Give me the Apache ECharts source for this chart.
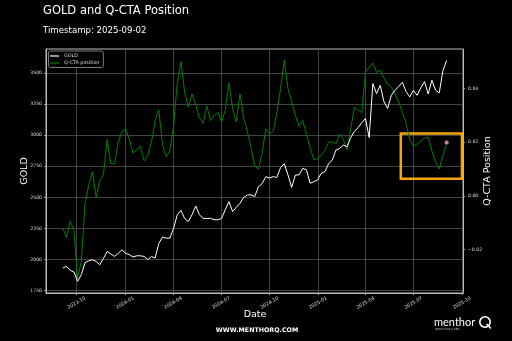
<!DOCTYPE html>
<html>
<head>
<meta charset="utf-8">
<script src="https://cdn.jsdelivr.net/npm/echarts@6/dist/echarts.min.js"></script>
<style>
  html, body { margin: 0; padding: 0; background: #000; }
  #chart { width: 512px; height: 341px; }
</style>
</head>
<body>
<div id="chart"></div>
<script>
// Weekly observations, first one on 2023-09-05, last one on 2025-09-02
const startYear = 2023, startMonth = 8, startDay = 5; // month is 0-based
const stepDays = 7;

// GOLD price (USD/oz)
const goldValues = [
  1932, 1945, 1913, 1900, 1825, 1878, 1975, 1990, 1998, 1985,
  1958, 2010, 2065, 2045, 2025, 2050, 2078, 2050, 2040, 2020,
  2030, 2030, 2025, 1998, 2025, 2012, 2130, 2180, 2172, 2172,
  2250, 2360, 2395, 2330, 2305, 2360, 2430, 2360, 2330, 2330,
  2332, 2320, 2319, 2330, 2400, 2465, 2385, 2420, 2452, 2500,
  2519, 2520, 2506, 2586, 2610, 2666, 2655, 2666, 2660, 2740,
  2770, 2680, 2580, 2679, 2680, 2733, 2720, 2613, 2626, 2639,
  2693, 2706, 2770, 2800, 2880, 2893, 2920, 2906, 2980, 3030,
  3060, 3100, 3134, 2980, 3414, 3334, 3400, 3270, 3214, 3320,
  3360, 3390, 3425, 3350, 3307, 3360, 3320, 3380, 3430, 3330,
  3441, 3360, 3340, 3520, 3600
];

// Q-CTA position
const ctaValues = [
  -0.0120, -0.0156, -0.0093, -0.0130, -0.0310, -0.0243, -0.0030, 0.0040, 0.0090, -0.0006,
  0.0056, 0.0080, 0.0210, 0.0120, 0.0119, 0.0200, 0.0240, 0.0250, 0.0212, 0.0160,
  0.0170, 0.0185, 0.0130, 0.0150, 0.0200, 0.0280, 0.0320, 0.0190, 0.0145, 0.0170,
  0.0260, 0.0420, 0.0500, 0.0386, 0.0330, 0.0380, 0.0340, 0.0290, 0.0270, 0.0335,
  0.0280, 0.0300, 0.0310, 0.0275, 0.0320, 0.0420, 0.0325, 0.0275, 0.0380, 0.0290,
  0.0240, 0.0180, 0.0110, 0.0100, 0.0160, 0.0250, 0.0230, 0.0240, 0.0310, 0.0400,
  0.0505, 0.0400, 0.0350, 0.0300, 0.0260, 0.0281, 0.0230, 0.0180, 0.0135, 0.0138,
  0.0150, 0.0168, 0.0200, 0.0200, 0.0195, 0.0230, 0.0210, 0.0170, 0.0250, 0.0330,
  0.0320, 0.0310, 0.0460, 0.0480, 0.0495, 0.0460, 0.0468, 0.0440, 0.0415, 0.0405,
  0.0380, 0.0350, 0.0310, 0.0270, 0.0210, 0.0185, 0.0193, 0.0205, 0.0215, 0.0218,
  0.0168, 0.0125, 0.0100, 0.0150, 0.0199
];

// Axis ticks
const goldTicks = [1750, 2000, 2250, 2500, 2750, 3000, 3250, 3500];
const ctaTicks = [-0.02, 0.00, 0.02, 0.04];
const dateTicks = ['2023-10', '2024-01', '2024-04', '2024-07', '2024-10',
                   '2025-01', '2025-04', '2025-07', '2025-10'];

// Highlighted recent window on the Q-CTA axis
const focusStart = [2025, 5, 7], focusEnd = [2025, 9, 1];
const focusLow = 0.0064, focusHigh = 0.0232;

const ts = (y, m, d) => new Date(y, m, d).getTime();
const dates = goldValues.map((_, i) => ts(startYear, startMonth, startDay + i * stepDays));
const goldData = dates.map((d, i) => [d, goldValues[i]]);
const ctaData = dates.map((d, i) => [d, ctaValues[i]]);
const lastIdx = ctaData.length - 1;
const dateTickValues = dateTicks.map(s => { const p = s.split('-'); return ts(+p[0], +p[1] - 1, 1); });

const FONT = 'DejaVu Sans';
const tickLabel = { color: '#dddddd', fontSize: 4.6, fontFamily: FONT };
const gridLine = { show: true, lineStyle: { color: '#555555', width: 0.8 } };
const frame = { show: true, onZero: false, lineStyle: { color: '#bbbbbb', width: 1 } };
const tick = { show: true, length: 2, lineStyle: { color: '#bbbbbb', width: 0.8 } };

const pad = n => (n < 10 ? '0' : '') + n;

const chart = echarts.init(document.getElementById('chart'), null, { renderer: 'canvas' });
chart.setOption({
  backgroundColor: '#000000',
  animation: false,
  title: [
    { text: 'GOLD and Q-CTA Position', left: 43, top: 5, padding: 0,
      textStyle: { color: '#ffffff', fontSize: 11.5, fontWeight: 'normal', fontFamily: FONT } },
    { text: 'Timestamp: 2025-09-02', left: 43, top: 26, padding: 0,
      textStyle: { color: '#ffffff', fontSize: 8.6, fontWeight: 'normal', fontFamily: FONT } }
  ],
  grid: {
    left: 46, right: 49, top: 49, bottom: 48,
    show: true, borderColor: '#bbbbbb', borderWidth: 1, backgroundColor: 'transparent'
  },
  legend: {
    data: ['GOLD', 'Q-CTA position'],
    orient: 'vertical',
    left: 48.5, top: 51,
    padding: [2.5, 4, 2, 1.5],
    itemGap: 2,
    itemWidth: 9, itemHeight: 1.2,
    itemTextGap: 3,
    icon: 'rect',
    backgroundColor: '#000000',
    borderColor: '#999999', borderWidth: 0.8, borderRadius: 2,
    textStyle: { color: '#dddddd', fontSize: 4.8, fontFamily: FONT, lineHeight: 5 }
  },
  xAxis: {
    type: 'value',
    min: ts(2023, 7, 4),
    max: ts(2025, 9, 3),
    axisLine: frame,
    axisTick: Object.assign({}, tick, { customValues: dateTickValues }),
    splitLine: gridLine,
    axisLabel: Object.assign({}, tickLabel, {
      customValues: dateTickValues,
      fontSize: 4.8,
      rotate: 30,
      align: 'center',
      verticalAlign: 'middle',
      margin: 10,
      formatter: v => { const d = new Date(v); return d.getFullYear() + '-' + pad(d.getMonth() + 1); }
    })
  },
  yAxis: [
    {
      type: 'value',
      position: 'left',
      min: 1731, max: 3692,
      axisLine: frame,
      axisTick: Object.assign({}, tick, { customValues: goldTicks }),
      splitLine: gridLine,
      axisLabel: Object.assign({}, tickLabel, { customValues: goldTicks, margin: 4, formatter: v => String(v) })
    },
    {
      type: 'value',
      position: 'right',
      min: -0.0362, max: 0.0547,
      axisLine: frame,
      axisTick: Object.assign({}, tick, { customValues: ctaTicks }),
      splitLine: { show: false },
      axisLabel: Object.assign({}, tickLabel, {
        customValues: ctaTicks, margin: 5,
        formatter: v => (v < 0 ? '\u2212' : '') + Math.abs(v).toFixed(2)
      })
    }
  ],
  series: [
    {
      name: 'GOLD', type: 'line', yAxisIndex: 0,
      data: goldData, showSymbol: false, symbol: 'none',
      lineStyle: { color: '#ffffff', width: 1 }, itemStyle: { color: '#ffffff' },
      z: 3
    },
    {
      name: 'Q-CTA position', type: 'line', yAxisIndex: 1,
      data: ctaData, showSymbol: false, symbol: 'none',
      lineStyle: { color: '#008000', width: 1 }, itemStyle: { color: '#008000' },
      z: 2,
      markArea: {
        silent: true,
        itemStyle: { color: 'rgba(0,0,0,0)', borderColor: '#f5a70a', borderWidth: 2.5 },
        data: [[
          { xAxis: ts(...focusStart), yAxis: focusHigh },
          { xAxis: ts(...focusEnd), yAxis: focusLow }
        ]]
      }
    },
    {
      name: 'latest', type: 'scatter', yAxisIndex: 1,
      data: [ctaData[lastIdx]],
      symbol: 'circle', symbolSize: 3.5,
      itemStyle: { color: '#f08a8a', borderColor: '#ffd0d0', borderWidth: 0.6 },
      z: 5
    }
  ],
  graphic: [
    { type: 'text', x: 25, y: 171, rotation: Math.PI / 2,
      style: { text: 'GOLD', fill: '#ffffff', fontSize: 9.5, fontFamily: FONT, align: 'center', verticalAlign: 'middle' } },
    { type: 'text', x: 488, y: 171, rotation: Math.PI / 2,
      style: { text: 'Q-CTA Position', fill: '#ffffff', fontSize: 9.5, fontFamily: FONT, align: 'center', verticalAlign: 'middle' } },
    { type: 'text', x: 255, y: 315,
      style: { text: 'Date', fill: '#ffffff', fontSize: 9.5, fontFamily: FONT, align: 'center', verticalAlign: 'middle' } },
    { type: 'text', x: 257, y: 330,
      style: { text: 'WWW.MENTHORQ.COM', fill: '#ffffff', fontSize: 6.3, fontWeight: 'bold', fontFamily: FONT, align: 'center', verticalAlign: 'middle' } },
    { type: 'text', x: 434, y: 322,
      style: { text: 'menthor', fill: '#ffffff', fontSize: 11, fontFamily: 'Lato', align: 'left', verticalAlign: 'middle' } },
    { type: 'circle', shape: { cx: 485, cy: 322, r: 5.2 },
      style: { fill: 'none', stroke: '#ffffff', lineWidth: 1.6 } },
    { type: 'line', shape: { x1: 486.5, y1: 324, x2: 491, y2: 328.5 },
      style: { stroke: '#ffffff', lineWidth: 1.6 } },
    { type: 'text', x: 435, y: 329.5,
      style: { text: 'INVEST LIKE A PRO', fill: '#cccccc', fontSize: 2.6, fontFamily: FONT, align: 'left', verticalAlign: 'middle' } }
  ]
});
</script>
</body>
</html>
